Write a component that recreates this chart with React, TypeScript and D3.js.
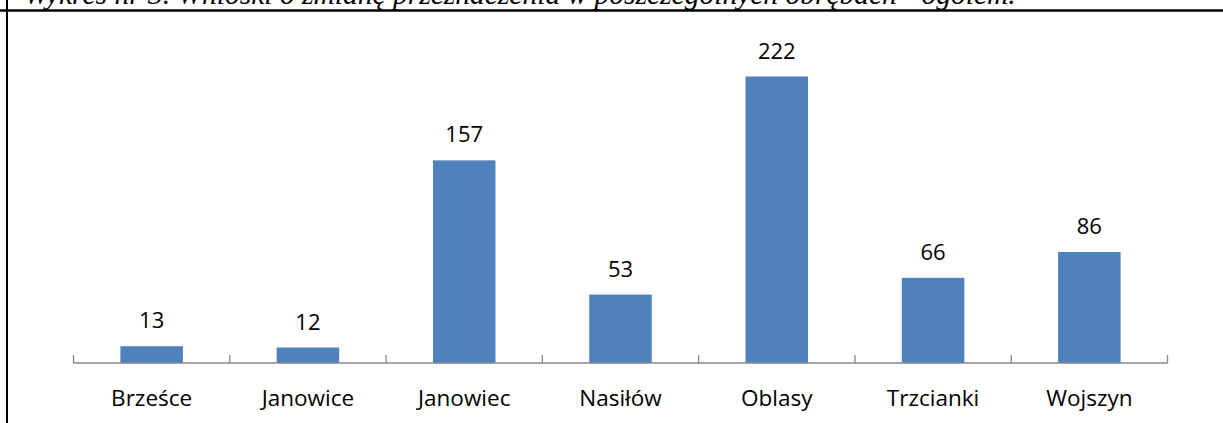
import React from "react";
import * as d3 from "d3";

const categories: string[] = ["Brześce", "Janowice", "Janowiec", "Nasiłów", "Oblasy", "Trzcianki", "Wojszyn"];
const values: number[] = [13, 12, 157, 53, 222, 66, 86];
const titleText = "Wykres nr 3. Wnioski o zmianę przeznaczenia w poszczególnych obrębach - ogółem.";

const W = 1223;
const H = 423;

export default function App() {
  const x = d3.scaleBand<string>().domain(categories).range([73.5, 1167.5]).paddingInner(0.6).paddingOuter(0.3);
  const y = d3.scaleLinear().domain([0, 222]).range([363, 76.5]);
  const step = x.step();
  const x0 = 73.5;
  const ticks = d3.range(categories.length + 1).map((i) => x0 + i * step);
  const font = "'Open Sans', sans-serif";
  return (
    <div style={{ position: "fixed", left: 0, top: 0, width: W, height: H, background: "#fff" }}>
      <svg width={W} height={H} style={{ display: "block" }}>
        <rect x={0} y={0} width={W} height={H} fill="#fff" />
        <text x={24} y={4} fontFamily="'Liberation Serif', 'Times New Roman', serif" fontStyle="italic" fontSize={29.5} fill="#000">
          {titleText}
        </text>
        <line x1={0} x2={W} y1={10.5} y2={10.5} stroke="#000" strokeWidth={2.5} />
        <line x1={7} x2={7} y1={0} y2={H} stroke="#000" strokeWidth={2} />
        {categories.map((c, i) => (
          <rect key={c} x={x(c)} y={y(values[i])} width={x.bandwidth()} height={363 - y(values[i])} fill="#4F81BD" />
        ))}
        <line x1={x0} x2={x0 + step * categories.length} y1={363} y2={363} stroke="#868686" strokeWidth={1.3} />
        {ticks.map((t, i) => (
          <line key={i} x1={t} x2={t} y1={355} y2={363} stroke="#868686" strokeWidth={1.3} />
        ))}
        {categories.map((c, i) => (
          <text key={"v" + c} x={x(c)! + x.bandwidth() / 2} y={y(values[i]) - 18} textAnchor="middle" fontFamily={font} fontSize={22} fill="#000">
            {values[i]}
          </text>
        ))}
        {categories.map((c) => (
          <text key={"l" + c} x={x(c)! + x.bandwidth() / 2} y={406} textAnchor="middle" fontFamily={font} fontSize={22.5} fill="#000">
            {c}
          </text>
        ))}
      </svg>
    </div>
  );
}
